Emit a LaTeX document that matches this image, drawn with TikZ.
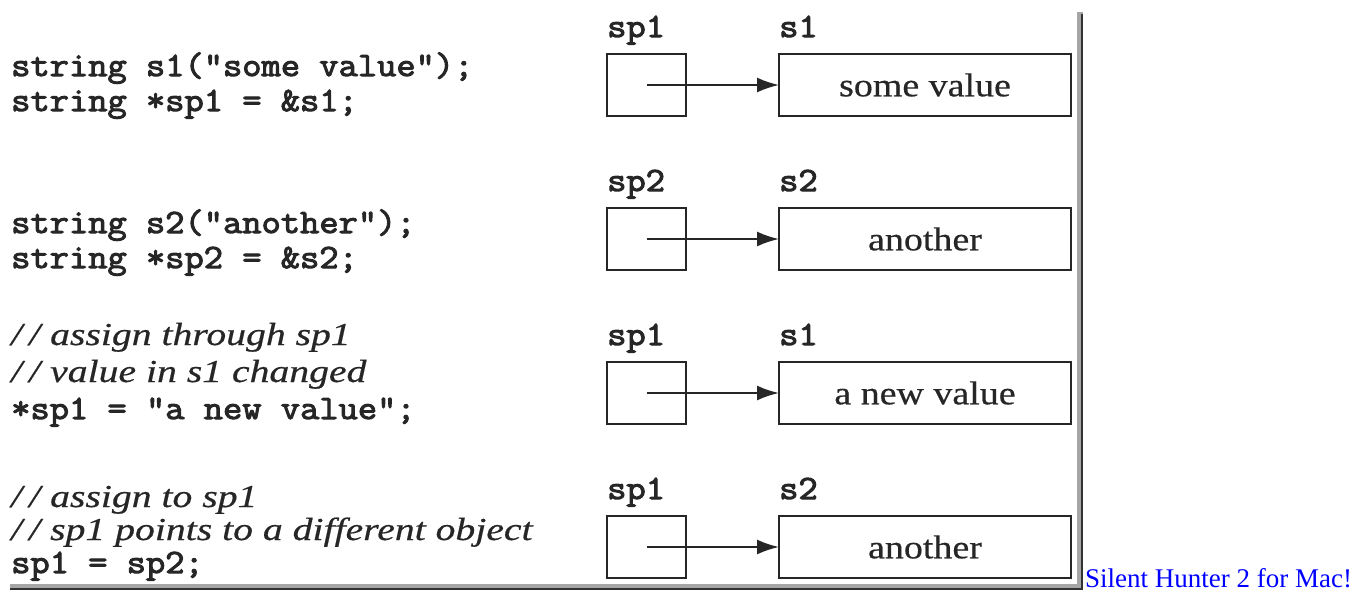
\documentclass[tikz,border=0pt]{standalone}
\usepackage{fontspec}
\setmainfont{Liberation Serif}
\newfontfamily\codefont[FakeBold=3,FakeStretch=1.1]{Latin Modern Mono}
\newfontfamily\bookfont[FakeStretch=1.15,FakeBold=0.5]{Liberation Serif}
\newfontfamily\notefont[FakeStretch=1.24,FakeBold=0.5]{Liberation Serif}
\usetikzlibrary{arrows.meta,positioning}

\tikzset{
  code/.style={anchor=base west, inner sep=0pt, text=black!85,
    font=\codefont\fontsize{34}{36}\selectfont},
  note/.style={anchor=base west, inner sep=0pt, text=black!85,
    font=\notefont\itshape\fontsize{32}{36}\selectfont},
  ptrbox/.style={draw=black!85, line width=2pt, minimum width=79pt,
    minimum height=62pt, inner sep=0pt, outer sep=0pt},
  valbox/.style={ptrbox, minimum width=292pt, text=black!85,
    font=\bookfont\fontsize{33}{36}\selectfont},
  varname/.style={code},
  ptr/.style={draw=black!85, line width=2pt, -{Latex[length=22pt,width=15pt]}},
}

\begin{document}
\begin{tikzpicture}[x=1pt,y=-1pt]
  \useasboundingbox (0,0) rectangle (1362,592);

  % frame
  \draw[black!35, line width=6pt] (1080,12) -- (1080,587) -- (10,587);
  \draw[black!80, line width=2.5pt] (1082,14) -- (1082,589) -- (10,589);

  % code
  \node[code] (c11) at (11,76)  {string s1("some value");};
  \node[code] (c12) at (11,111) {string *sp1 = \&s1;};
  \node[code] (c21) at (11,233) {string s2("another");};
  \node[code] (c22) at (11,268) {string *sp2 = \&s2;};
  \node[note] (c31) at (11,345) {/\kern7pt/ assign through sp1};
  \node[note] (c32) at (11,382) {/\kern7pt/ value in s1 changed};
  \node[code] (c33) at (11,419) {*sp1 = "a new value";};
  \node[note] (c41) at (11,507) {/\kern7pt/ assign to sp1};
  \node[note] (c42) at (11,540) {/\kern7pt/ sp1 points to a different object};
  \node[code] (c43) at (11,573) {sp1 = sp2;};

  % boxes
  \node[ptrbox] (p1) at (646.5,85)  {};
  \node[valbox] (v1) at (925,85)    {some value};
  \node[ptrbox] (p2) at (646.5,239) {};
  \node[valbox] (v2) at (925,239)   {another};
  \node[ptrbox] (p3) at (646.5,393) {};
  \node[valbox] (v3) at (925,393)   {a new value};
  \node[ptrbox] (p4) at (646.5,547) {};
  \node[valbox] (v4) at (925,547)   {another};

  % names
  \node[varname, above=17pt of p1.north west, anchor=base west] (n1) {sp1};
  \node[varname, above=17pt of v1.north west, anchor=base west] (m1) {s1};
  \node[varname, above=17pt of p2.north west, anchor=base west] (n2) {sp2};
  \node[varname, above=17pt of v2.north west, anchor=base west] (m2) {s2};
  \node[varname, above=17pt of p3.north west, anchor=base west] (n3) {sp1};
  \node[varname, above=17pt of v3.north west, anchor=base west] (m3) {s1};
  \node[varname, above=17pt of p4.north west, anchor=base west] (n4) {sp1};
  \node[varname, above=17pt of v4.north west, anchor=base west] (m4) {s2};

  \draw[ptr] (p1.center) -- (v1.west);
  \draw[ptr] (p2.center) -- (v2.west);
  \draw[ptr] (p3.center) -- (v3.west);
  \draw[ptr] (p4.center) -- (v4.west);

  \node[anchor=base west, inner sep=0pt, text=blue, font=\fontsize{27}{30}\selectfont]
    (link) at (1085,587) {Silent Hunter 2 for Mac!};
\end{tikzpicture}
\end{document}
